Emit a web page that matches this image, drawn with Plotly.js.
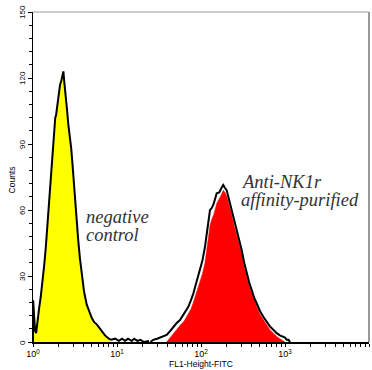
<!DOCTYPE html>
<html>
<head>
<meta charset="utf-8">
<script src="https://cdn.plot.ly/plotly-3.0.1.min.js"></script>
<style>html,body{margin:0;padding:0;background:#fff;}#chart{width:372px;height:370px;}</style>
</head>
<body>
<div id="chart"></div>
<script>
// Negative control (yellow fill)
const ctrlFillX = [1.00,1.03,1.06,1.11,1.18,1.24,1.30,1.36,1.42,1.48,1.55,1.62,1.70,1.76,1.80,1.84,1.88,1.95,2.02,2.10,2.18,2.25,2.30,2.36,2.45,2.55,2.63,2.70,2.76,2.85,2.95,3.05,3.16,3.30,3.46,3.62,3.80,4.05,4.36,4.65,5.00,5.35,5.74,6.30,7.20,8.00,8.50];
const ctrlFillY = [2,3,5,10,15,20,26,34,42,52,62,73,84,92,98,100,102,106,112,116,118,121,122,117,112,104,98,95,93,87,80,72,64,54,45,37,30,22,16,13,10,8,7,5,2.5,1,0];
// Negative control outline (black)
const ctrlLineX = [1.00,1.005,1.03,1.06,1.09,1.13,1.18,1.24,1.30,1.36,1.42,1.48,1.55,1.62,1.70,1.76,1.80,1.84,1.88,1.95,2.02,2.10,2.18,2.25,2.30,2.36,2.45,2.55,2.63,2.70,2.76,2.85,2.95,3.05,3.16,3.30,3.46,3.62,3.80,4.05,4.36,4.65,5.00,5.35,5.74,6.30,7.20,8.00,8.50,9.5,10.5,11.5,12.5,13.5,15,16,17.5,19,21,24];
const ctrlLineY = [0,19,12,5,4,8,15,21,27,35,43,53,63,74,86,94,100,102,103,107,113,117,119,122,123,118,113,105,99,96,94,88,81,73,65,55,46,38,31,23,17,14,11,9,8,6,3,1.5,1,1.5,0.5,1.5,0.5,1.5,0.5,1.5,0.5,1,0,0.5];
// Anti-NK1r affinity-purified (red fill)
const stainFillX = [39,43,46.8,51,56.2,63,70.6,76,81,88,97.3,104,111.6,117,122,128,135,142,153.8,165,175,184,193,202,215,232,248,266,285,305,327,350,375,402,430,460,505,552,605,663,730,796,870,954,1000];
const stainFillY = [0,2,4,6,7.5,9.5,12.5,15,18,22,27.5,31,36,42,48,53,56,58,63,65,67,69,68,66.5,63,58,53,49,44,40,34,29.5,25.5,22,18.5,16,12.5,10,7.5,5.5,4,2.5,1.5,0.5,0];
// Anti-NK1r outline (black)
const stainLineX = [25,27,30,32.5,36,39,43,46.8,51,56.2,63,70.6,76,81,88,97.3,104,111.6,117,122,128,135,142,153.8,165,175,184,193,202,215,232,248,266,285,305,327,350,375,402,430,460,505,552,605,663,730,796,870,954,1000,1047,1100,1150];
const stainLineY = [0,1,1.5,2,2.5,3.2,5,7,8.5,10,13,16,19,22,27,32.7,37,43.3,50,55.5,60,61,63,67.6,68,70,71.4,70,69,65,60,55,51,46,41.8,36,31.2,27,23.6,20,17.6,14,11.5,9,7,5.5,4,3,2.4,2,1,1,0];

const yTicks = [0,30,60,90,120,150];
const xMajor = [1,10,100,1000,10000];
const xMajorText = ['10<sup>0</sup>','10<sup>1</sup>','10<sup>2</sup>','10<sup>3</sup>','10<sup>4</sup>'];

const xTickVals = [], xTickText = [];
for (let d = 0; d < 4; d++) {
  for (let m = 1; m <= 9; m++) {
    xTickVals.push(m * Math.pow(10, d));
    xTickText.push(m === 1 ? xMajorText[d] : '');
  }
}
xTickVals.push(xMajor[4]); xTickText.push(xMajorText[4]);

const traces = [
  {x: ctrlFillX, y: ctrlFillY, type: 'scatter', mode: 'lines', fill: 'tozeroy', fillcolor: '#FFFF00', line: {color: '#FFFF00', width: 0.5}, hoverinfo: 'skip'},
  {x: stainFillX, y: stainFillY, type: 'scatter', mode: 'lines', fill: 'tozeroy', fillcolor: '#FF0000', line: {color: '#FF0000', width: 0.5}, hoverinfo: 'skip'},
  {x: ctrlLineX, y: ctrlLineY, type: 'scatter', mode: 'lines', line: {color: '#000', width: 2}, hoverinfo: 'skip'},
  {x: stainLineX, y: stainLineY, type: 'scatter', mode: 'lines', line: {color: '#000', width: 2}, hoverinfo: 'skip'}
];

const annFont = {family: 'Liberation Serif, Times New Roman, serif', size: 18.5, color: '#333'};
const axFont = {family: 'Liberation Sans, Arial, sans-serif', size: 8, color: '#000'};

const annotations = [
  {xref: 'paper', yref: 'paper', x: 0.152, y: 0.38, xanchor: 'left', yanchor: 'middle', showarrow: false, text: '<i>negative</i>', font: annFont},
  {xref: 'paper', yref: 'paper', x: 0.152, y: 0.324, xanchor: 'left', yanchor: 'middle', showarrow: false, text: '<i>control</i>', font: annFont},
  {xref: 'paper', yref: 'paper', x: 0.613, y: 0.486, xanchor: 'left', yanchor: 'middle', showarrow: false, text: '<i>Anti-NK1r</i>', font: annFont},
  {xref: 'paper', yref: 'paper', x: 0.613, y: 0.430, xanchor: 'left', yanchor: 'middle', showarrow: false, text: '<i>affinity-purified</i>', font: annFont},
  {xref: 'paper', yref: 'paper', x: -0.062, y: 0.49, xanchor: 'center', yanchor: 'middle', showarrow: false, textangle: -90, text: 'Counts', font: {family: axFont.family, size: 8.5, color: '#000'}}
];
yTicks.forEach(v => annotations.push({
  xref: 'paper', yref: 'y', x: -0.033, y: v, xanchor: 'center', yanchor: 'middle',
  showarrow: false, textangle: -90, text: String(v), font: axFont, borderpad: 0
}));

const layout = {
  width: 372, height: 370,
  margin: {l: 33, r: 3, t: 12, b: 28, pad: 0},
  paper_bgcolor: '#fff', plot_bgcolor: '#fff',
  showlegend: false,
  font: axFont,
  xaxis: {
    type: 'log', range: [0, 4],
    tickmode: 'array', tickvals: xTickVals, ticktext: xTickText,
    tickangle: 0,
    ticks: 'outside', ticklen: 3, tickwidth: 1, tickcolor: '#000',
    showline: true, linecolor: '#000', linewidth: 1.5,
    showgrid: false, zeroline: false,
    tickfont: {size: 9},
    title: {text: 'FL1-Height-FITC', font: {size: 8.5}, standoff: 2},
    automargin: false
  },
  yaxis: {
    range: [0, 150],
    tickmode: 'array', tickvals: yTicks,
    ticks: 'outside', ticklen: 4, tickwidth: 1, tickcolor: '#000',
    minor: {dtick: 6, ticks: 'outside', ticklen: 2.5, tickcolor: '#000', showgrid: false},
    showticklabels: false,
    showline: true, linecolor: '#000', linewidth: 1.5,
    showgrid: false, zeroline: false,
    automargin: false
  },
  shapes: [
    {type: 'line', xref: 'paper', yref: 'paper', x0: 0, x1: 1, y0: 1, y1: 1, line: {color: '#999', width: 1.2}},
    {type: 'line', xref: 'paper', yref: 'paper', x0: 1, x1: 1, y0: 0, y1: 1, line: {color: '#999', width: 2}}
  ],
  annotations: annotations
};

Plotly.newPlot('chart', traces, layout, {displayModeBar: false, staticPlot: true});
</script>
</body>
</html>
